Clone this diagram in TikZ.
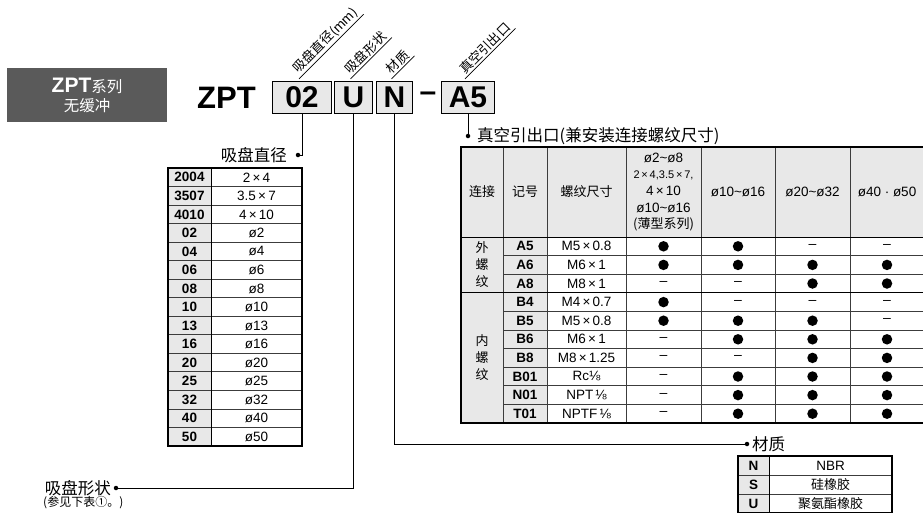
\documentclass[tikz,border=0pt]{standalone}
\usepackage{fontspec}
\setmainfont{Liberation Sans}
\newfontfamily\cjk{Noto Sans CJK SC}
\definecolor{cellgray}{HTML}{E8E8E8}
\definecolor{boxgray}{HTML}{5A5A5A}
\definecolor{rulegray}{HTML}{3C3C3C}
\tikzset{
	partbox/.style={draw,line width=1.4pt,fill=cellgray,minimum height=32pt,inner sep=0pt,font=\fontsize{30}{30}\selectfont\bfseries},
	diagtag/.style={rotate=45,anchor=south west,inner xsep=3pt,inner ysep=1.5pt,font=\cjk\fontsize{13}{13}\selectfont},
	lead/.style={line width=.9pt},
	leaddot/.style={circle,fill,inner sep=0pt,minimum size=4.5pt},
	lbltext/.style={font=\cjk\fontsize{16.5}{16.5}\selectfont,inner sep=1pt},
	codecell/.style={font=\fontsize{13.5}{13.5}\selectfont\bfseries},
	cjkcell/.style={font=\cjk\fontsize{13}{17}\selectfont,align=center},
	rulecol/.style={draw=rulegray,line width=.7pt},
	mk1/.style={circle,fill,inner sep=0pt,minimum size=10.5pt},
	mk0/.style={font=\fontsize{14}{14}\selectfont},
}
\begin{document}
\begin{tikzpicture}[x=1pt,y=-1pt,font=\fontsize{13.5}{15}\selectfont]
			\useasboundingbox (0,0) rectangle (923,512);
			\clip (0,0) rectangle (923,512);

			% series badge
			\node[fill=boxgray,text=white,minimum width=160pt,minimum height=54pt,align=center,font=\cjk\fontsize{15.5}{19}\selectfont] (series) at (87,95) {{\rmfamily\bfseries\fontsize{21}{19}\selectfont ZPT}系列\\无缓冲};

			% part number
			\node[font=\fontsize{31}{31}\selectfont\bfseries,anchor=west,inner sep=0pt] (zpt) at (197,97.5) {ZPT};
			\node[partbox,minimum width=59pt] (dia) at (302,97.5) {02};
			\node[partbox,minimum width=38pt] (shape) at (353.5,97.5) {U};
			\node[partbox,minimum width=36pt] (mat) at (394.5,97.5) {N};
			\node[font=\fontsize{30}{30}\selectfont\bfseries,inner sep=0pt] (dash) at (428,97) {–};
			\node[partbox,minimum width=53pt] (port) at (468,97.5) {A5};

			% slanted tags
			\foreach \b/\t in {dia/吸盘直径(mm),shape/吸盘形状,mat/材质,port/真空引出口}{
				\node[diagtag] (\b Tag) at ([xshift=-3pt,yshift=2pt]\b.north) {\t};
				\draw[line width=.7pt] (\b Tag.south west) -- (\b Tag.south east);
			}

			% leads and captions
			\node[leaddot] (diaDot) at (298,155) {};
			\node[lbltext,anchor=east] (diaLbl) at (288,155) {吸盘直径};
			\draw[lead] (dia.south) |- (diaDot.center);

			\node[leaddot] (shapeDot) at (116,488) {};
			\node[lbltext,anchor=east] (shapeLbl) at (112,488) {吸盘形状};
			\node[font=\cjk\fontsize{12}{12}\selectfont,anchor=west,inner sep=1pt] (shapeNote) at (42,503) {(参见下表①。)};
			\draw[lead] (shape.south) |- (shapeDot.center);

			\node[leaddot] (matDot) at (747,444) {};
			\node[lbltext,anchor=west] (matLbl) at (751,444) {材质};
			\draw[lead] (mat.south) |- (matDot.center);

			\node[leaddot] (portDot) at (468,136) {};
			\node[lbltext,anchor=west] (portLbl) at (476,136) {真空引出口(兼安装连接螺纹尺寸)};
			\draw[lead] (port.south) -- (portDot.center);

			% pad diameter table
			\foreach \c/\v [count=\q from 0] in {2004/2\,×\,4,3507/3.5\,×\,7,4010/4\,×\,10,02/ø2,04/ø4,06/ø6,08/ø8,10/ø10,13/ø13,16/ø16,20/ø20,25/ø25,32/ø32,40/ø40,50/ø50}{
				\fill[cellgray] (168,168+\q*18.53) rectangle (211,186.53+\q*18.53);
				\node[codecell] (dcode\q) at (189.5,177.3+\q*18.53) {\c};
				\node (dsize\q) at (256.5,177.3+\q*18.53) {\v};
				\draw[rulecol] (168,168+\q*18.53) -- ++(134,0);
			}
			\draw[line width=.9pt] (211,168) -- (211,446);
			\draw[line width=1.2pt] (168,168) rectangle (302,446);

			% vacuum port table
			\fill[cellgray] (461,147) rectangle (924.5,237);
			\fill[cellgray] (461,237) rectangle (547,423);
			\foreach \x/\t [count=\q] in {482/连接,525/记号,586.5/螺纹尺寸}
				\node[cjkcell] (head\q) at (\x,192) {\t};
			\node[align=center,font=\fontsize{13.5}{16.6}\selectfont] (head4) at (663.5,192) {ø2\textasciitilde ø8\\{\fontsize{11}{16.6}\selectfont 2\,×\,4,3.5\,×\,7,}\\4\,×\,10\\ø10\textasciitilde ø16\\{\cjk\fontsize{13}{16.6}\selectfont (薄型系列)}};
			\node (head5) at (738,192) {ø10\textasciitilde ø16};
			\node (head6) at (812.5,192) {ø20\textasciitilde ø32};
			\node (head7) at (887,192) {ø40 · ø50};
			\node[cjkcell] (outerGrp) at (482,265) {外\\螺\\纹};
			\node[cjkcell] (innerGrp) at (482,358) {内\\螺\\纹};
			\foreach \c/\s/\a/\b/\d/\e [count=\q from 0] in {
				A5/M5\,×\,0.8/1/1/0/0,A6/M6\,×\,1/1/1/1/1,A8/M8\,×\,1/0/0/1/1,
				B4/M4\,×\,0.7/1/0/0/0,B5/M5\,×\,0.8/1/1/1/0,B6/M6\,×\,1/0/1/1/1,
				B8/M8\,×\,1.25/0/0/1/1,B01/Rc⅛/0/1/1/1,N01/NPT\,⅛/0/1/1/1,T01/NPTF\,⅛/0/1/1/1}{
				\node[codecell] (pcode\q) at (525,246.3+\q*18.6) {\c};
				\node (psize\q) at (586.5,246.3+\q*18.6) {\s};
				\foreach \m [count=\k from 0] in {\a,\b,\d,\e}
					\node[mk\m] (pm\q-\k) at (663.5+\k*74.5,246.3+\q*18.6) {\ifnum\m=0 –\fi};
			}
			\foreach \q in {1,2,4,5,6,7,8,9}
				\draw[rulecol] (503,237+\q*18.6) -- (924.5,237+\q*18.6);
			\foreach \x in {503,547,626,701,775,850}
				\draw[rulecol] (\x,147) -- (\x,423);
			\draw[line width=1pt] (461,237) -- (924.5,237);
			\draw[line width=1pt] (461,292.8) -- (924.5,292.8);
			\draw[line width=1.2pt] (461,147) rectangle (924.5,423);

			% material table
			\foreach \c/\n [count=\q from 0] in {N/NBR,S/{\cjk\fontsize{13}{13}\selectfont 硅橡胶},U/{\cjk\fontsize{13}{13}\selectfont 聚氨酯橡胶}}{
				\fill[cellgray] (738,456+\q*19) rectangle (769,475+\q*19);
				\node[codecell] (mcode\q) at (753.5,465.5+\q*19) {\c};
				\node (mname\q) at (830.5,465.5+\q*19) {\n};
				\draw[rulecol] (738,456+\q*19) -- (892,456+\q*19);
			}
			\draw[line width=.9pt] (769,456) -- (769,513);
			\draw[line width=1.2pt] (738,456) rectangle (892,513);
\end{tikzpicture}
\end{document}
